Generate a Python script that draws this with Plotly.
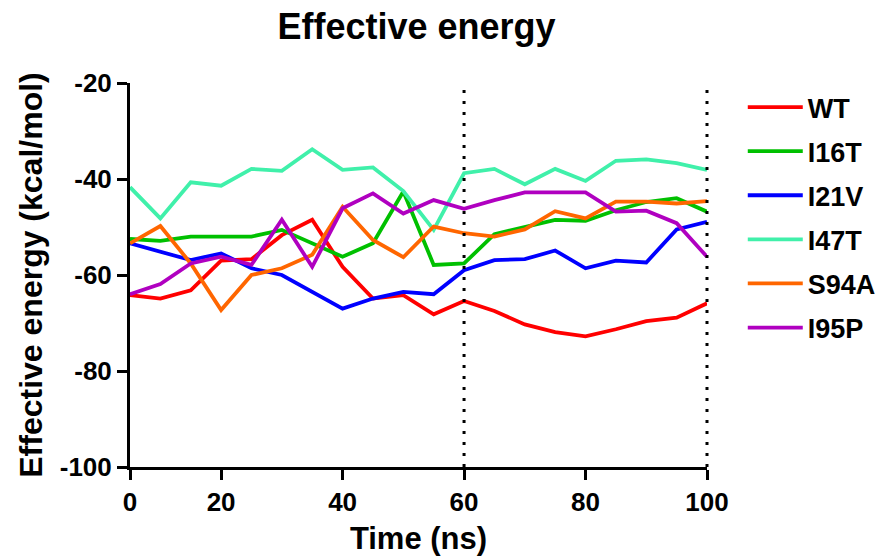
import plotly.graph_objects as go

time_ns = [5, 10, 15, 20, 25, 30, 35, 40, 45, 50, 55, 60, 65, 70, 75, 80, 85, 90, 95, 100]

wt = [-64.2, -64.9, -63.2, -57.0, -56.7, -51.7, -48.5, -58.3, -64.9, -64.2,
      -68.2, -65.4, -67.5, -70.3, -71.9, -72.8, -71.3, -69.6, -68.9, -65.9]
i16t = [-52.5, -52.9, -52.0, -52.0, -52.0, -50.6, -53.4, -56.2, -53.4, -42.6,
        -57.9, -57.6, -51.5, -49.9, -48.5, -48.7, -46.5, -44.8, -44.0, -46.8]
i21v = [-53.4, -55.2, -56.9, -55.5, -58.6, -60.0, -63.5, -67.0, -64.9, -63.5,
        -64.0, -59.0, -56.9, -56.7, -54.9, -58.6, -57.0, -57.4, -50.5, -48.9]
i47t = [-41.7, -48.2, -40.7, -41.4, -37.9, -38.3, -33.8, -38.1, -37.6, -42.5,
        -50.6, -38.8, -37.9, -41.1, -37.9, -40.4, -36.2, -35.9, -36.7, -38.1]
s94a = [-53.4, -49.8, -57.6, -67.3, -60.0, -58.6, -55.8, -45.8, -52.7, -56.3,
        -49.9, -51.3, -52.0, -50.5, -46.7, -48.2, -44.7, -44.7, -45.1, -44.6]
i95p = [-64.0, -61.9, -57.6, -56.2, -57.9, -48.5, -58.3, -46.1, -43.0, -47.2,
        -44.4, -46.2, -44.4, -42.8, -42.8, -42.8, -46.8, -46.6, -49.2, -56.2]

series_names = ["WT", "I16T", "I21V", "I47T", "S94A", "I95P"]
series_values = [wt, i16t, i21v, i47t, s94a, i95p]
series_colors = ["#FF0000", "#00C000", "#0000FF", "#40F0AA", "#FF6600", "#B000C0"]

x_range = [5, 100]
y_range = [-100, -20]
x_tick_vals = [5, 20, 40, 60, 80, 100]
x_tick_text = ["0", "20", "40", "60", "80", "100"]
y_tick_vals = [-100, -80, -60, -40, -20]
y_tick_text = ["-100", "-80", "-60", "-40", "-20"]
marker_lines = [60, 100]

FONT = "Liberation Sans, Arial, sans-serif"

fig = go.Figure()
for name, vals, col in zip(series_names, series_values, series_colors):
    fig.add_trace(go.Scatter(
        x=time_ns, y=vals, mode="lines", name=name, legendgroup=name,
        line=dict(color=col, width=3.8),
    ))

# dotted reference lines; placed in paper x so the one on the axis edge is not clipped
for xv in marker_lines:
    xp = (xv - x_range[0]) / (x_range[1] - x_range[0])
    fig.add_shape(type="line", xref="paper", yref="y", x0=xp, x1=xp,
                  y0=y_range[0], y1=y_range[1],
                  line=dict(color="black", width=3, dash="3px,8px"), layer="above")

fig.update_layout(
    width=890, height=558,
    margin=dict(l=130, r=183, t=83, b=91, autoexpand=False),
    paper_bgcolor="white", plot_bgcolor="white",
    font=dict(family=FONT, color="black"),
    title=dict(text="Effective energy", x=0.468, xanchor="center", y=0.952, yanchor="middle",
               font=dict(size=36, family=FONT, weight="bold", color="black")),
    showlegend=True,
    legend=dict(x=1.062, xanchor="left", y=1.0, yanchor="top",
                font=dict(size=27, family=FONT, weight="bold", color="black"),
                itemwidth=55, tracegroupgap=6, bgcolor="rgba(0,0,0,0)"),
)

fig.update_xaxes(
    range=x_range, tickvals=x_tick_vals, ticktext=x_tick_text, automargin=False,
    showline=True, linecolor="black", linewidth=3, mirror=False,
    ticks="outside", ticklen=10, tickwidth=3, tickcolor="black",
    showgrid=False, zeroline=False,
    tickfont=dict(size=26, family=FONT, weight="bold", color="black"),
    title=dict(text="Time (ns)", standoff=12,
               font=dict(size=31, family=FONT, weight="bold", color="black")),
)
fig.update_yaxes(
    range=y_range, tickvals=y_tick_vals, ticktext=y_tick_text, automargin=False,
    showline=True, linecolor="black", linewidth=3, mirror=False,
    ticks="outside", ticklen=10, tickwidth=3, tickcolor="black",
    showgrid=False, zeroline=False,
    tickfont=dict(size=26, family=FONT, weight="bold", color="black"),
    title=dict(text="Effective energy (kcal/mol)", standoff=8,
               font=dict(size=32, family=FONT, weight="bold", color="black")),
)

fig.write_html("out.html")
